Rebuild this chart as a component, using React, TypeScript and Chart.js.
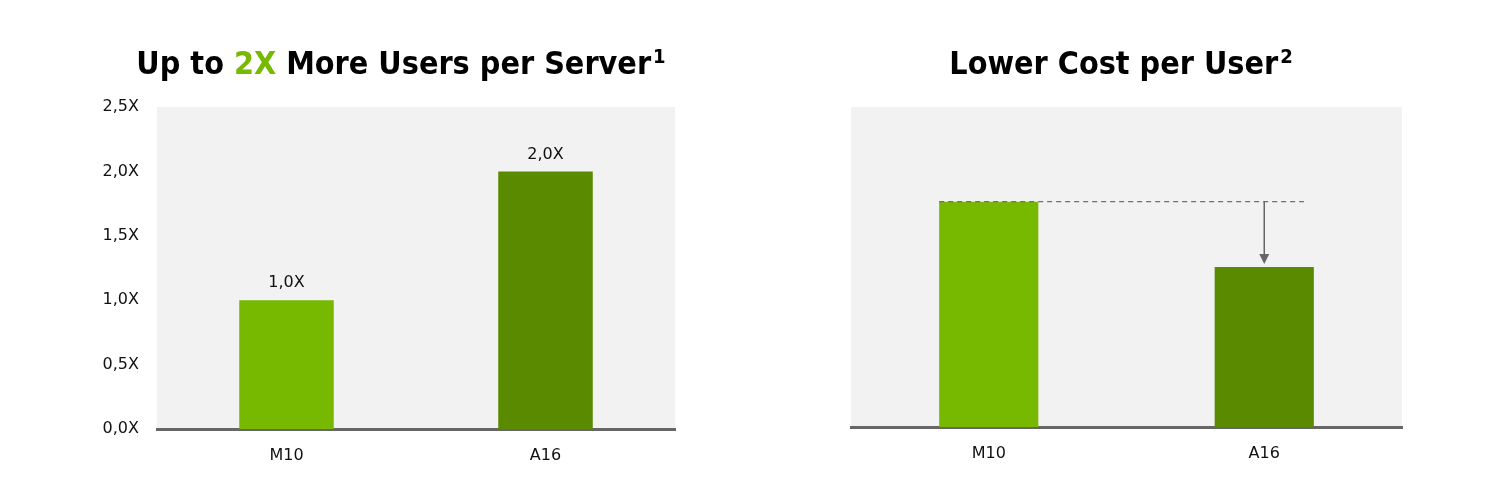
import React, { useEffect, useRef } from "react";
import { Chart, registerables } from "chart.js";

Chart.register(...registerables);

// ---- data ----
const categories = ["M10", "A16"];
const usersPerServer = [1.0, 2.0];
const costPerUser = [1.76, 1.25];
const barColors = ["#76b900", "#5a8a00"];
const yMin = 0;
const yMax = 2.5;
const yStep = 0.5;
const leftTitleParts = [
  { text: "Up to ", color: "#000000" },
  { text: "2X", color: "#76b900" },
  { text: " More Users per Server", color: "#000000" },
];
const leftTitleSup = "1";
const rightTitleParts = [{ text: "Lower Cost per User", color: "#000000" }];
const rightTitleSup = "2";

const FONT = "'DejaVu Sans', sans-serif";
const TITLE_FONT = "'DejaVu Sans Condensed', 'DejaVu Sans', sans-serif";
const fmtX = (v: number) => v.toFixed(1).replace(".", ",") + "X";

const bgPlugin = {
  id: "plotBg",
  beforeDraw(chart: any) {
    const { ctx, chartArea } = chart;
    ctx.save();
    ctx.fillStyle = "#f2f2f2";
    ctx.fillRect(chartArea.left, chartArea.top, chartArea.right - chartArea.left, chartArea.bottom - chartArea.top);
    ctx.restore();
  },
};

function titlePlugin(parts: { text: string; color: string }[], sup: string, cx: number, baseline: number) {
  return {
    id: "richTitle",
    afterDraw(chart: any) {
      const ctx = chart.ctx;
      ctx.save();
      const mainFont = `bold 32px ${TITLE_FONT}`;
      const supFont = `bold 20px ${TITLE_FONT}`;
      ctx.font = mainFont;
      let total = 0;
      parts.forEach((p) => (total += ctx.measureText(p.text).width));
      ctx.font = supFont;
      const supW = ctx.measureText(sup).width + 2;
      total += supW;
      let x = cx - total / 2;
      ctx.textBaseline = "alphabetic";
      ctx.textAlign = "left";
      ctx.font = mainFont;
      parts.forEach((p) => {
        ctx.fillStyle = p.color;
        ctx.fillText(p.text, x, baseline);
        x += ctx.measureText(p.text).width;
      });
      ctx.font = supFont;
      ctx.fillStyle = "#000000";
      ctx.fillText(sup, x + 2, baseline - 11);
      ctx.restore();
    },
  };
}

const valueLabelPlugin = {
  id: "valueLabels",
  afterDatasetsDraw(chart: any) {
    const { ctx } = chart;
    const meta = chart.getDatasetMeta(0);
    const data = chart.data.datasets[0].data as number[];
    ctx.save();
    ctx.font = `16px ${FONT}`;
    ctx.fillStyle = "#111111";
    ctx.textAlign = "center";
    ctx.textBaseline = "middle";
    meta.data.forEach((bar: any, i: number) => {
      ctx.fillText(fmtX(data[i]), bar.x, bar.y - 17);
    });
    ctx.restore();
  },
};

const arrowPlugin = {
  id: "reductionArrow",
  afterDatasetsDraw(chart: any) {
    const { ctx } = chart;
    const meta = chart.getDatasetMeta(0);
    const b0 = meta.data[0] as any;
    const b1 = meta.data[1] as any;
    const yRef = b0.y;
    ctx.save();
    ctx.strokeStyle = "#707070";
    ctx.lineWidth = 1.3;
    ctx.setLineDash([5, 4]);
    ctx.beginPath();
    ctx.moveTo(b0.x - b0.width / 2, yRef);
    ctx.lineTo(b1.x + b1.width * 0.4, yRef);
    ctx.stroke();
    ctx.setLineDash([]);
    ctx.strokeStyle = "#666666";
    ctx.fillStyle = "#666666";
    ctx.lineWidth = 1.5;
    const tip = b1.y - 3;
    ctx.beginPath();
    ctx.moveTo(b1.x, yRef);
    ctx.lineTo(b1.x, tip - 8);
    ctx.stroke();
    ctx.beginPath();
    ctx.moveTo(b1.x - 5, tip - 10);
    ctx.lineTo(b1.x + 5, tip - 10);
    ctx.lineTo(b1.x, tip);
    ctx.closePath();
    ctx.fill();
    ctx.restore();
  },
};

function makeConfig(opts: {
  values: number[];
  showY: boolean;
  padding: any;
  yWidth: number;
  xHeight: number;
  barPct: number;
  plugins: any[];
}): any {
  return {
    type: "bar",
    data: {
      labels: categories,
      datasets: [
        {
          data: opts.values,
          backgroundColor: barColors,
          borderWidth: 0,
          barPercentage: opts.barPct,
          categoryPercentage: 1,
        },
      ],
    },
    options: {
      animation: false,
      responsive: false,
      maintainAspectRatio: false,
      layout: { padding: opts.padding },
      plugins: { legend: { display: false }, tooltip: { enabled: false }, title: { display: false } },
      scales: {
        x: {
          z: 1,
          grid: { display: false, drawTicks: false },
          border: { display: true, color: "#666666", width: 3 },
          ticks: { color: "#111111", font: { family: FONT, size: 16 }, padding: 17 },
          afterFit: (s: any) => {
            s.height = opts.xHeight;
          },
        },
        y: {
          display: opts.showY,
          min: yMin,
          max: yMax,
          grid: { display: false, drawTicks: false },
          border: { display: false },
          ticks: {
            stepSize: yStep,
            color: "#111111",
            font: { family: FONT, size: 16 },
            padding: 18,
            callback: (v: any) => fmtX(Number(v)),
          },
          afterFit: (s: any) => {
            s.width = opts.yWidth;
          },
        },
      },
    },
    plugins: opts.plugins,
  };
}

function ChartCanvas({ config, left }: { config: any; left: number }) {
  const ref = useRef<HTMLCanvasElement | null>(null);
  useEffect(() => {
    if (!ref.current) return;
    const c = new Chart(ref.current, config);
    return () => c.destroy();
  }, []);
  return (
    <canvas
      ref={ref}
      width={754}
      height={492}
      style={{ position: "absolute", left, top: -8, width: 754, height: 492 }}
    />
  );
}

export default function App() {
  const leftCfg = makeConfig({
    values: usersPerServer,
    showY: true,
    padding: { top: 107, right: 79, left: 0, bottom: 0 },
    yWidth: 157,
    xHeight: 63,
    barPct: 0.365,
    plugins: [bgPlugin, valueLabelPlugin, titlePlugin(leftTitleParts, leftTitleSup, 401, 74)],
  });
  const rightCfg = makeConfig({
    values: costPerUser,
    showY: false,
    padding: { top: 107, right: 106, left: 97, bottom: 0 },
    yWidth: 0,
    xHeight: 65,
    barPct: 0.36,
    plugins: [bgPlugin, arrowPlugin, titlePlugin(rightTitleParts, rightTitleSup, 367, 74)],
  });
  return (
    <div style={{ position: "relative", width: 1492, height: 476 }}>
      <ChartCanvas config={leftCfg} left={-8} />
      <ChartCanvas config={rightCfg} left={746} />
    </div>
  );
}
